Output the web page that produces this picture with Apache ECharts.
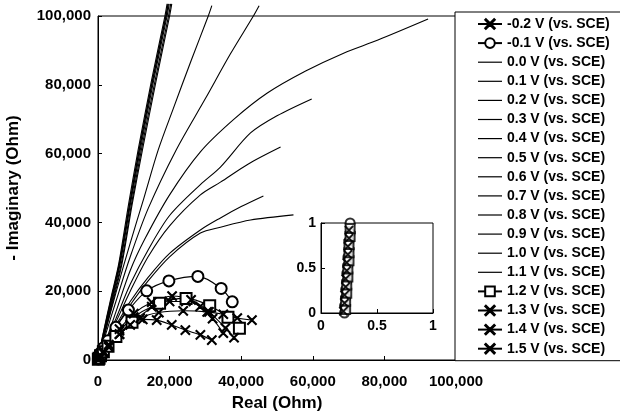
<!DOCTYPE html>
<html>
<head>
<meta charset="utf-8">
<script src="https://cdn.jsdelivr.net/npm/echarts@6/dist/echarts.min.js"></script>
<style>
  html, body { margin: 0; padding: 0; background: #fff; }
  #chart_main { width: 620px; height: 420px; }
</style>
</head>
<body>
<div id="chart_main"></div>
<script>
// series names, in legend order
var names = ['-0.2 V (vs. SCE)', '-0.1 V (vs. SCE)', '0.0 V (vs. SCE)', '0.1 V (vs. SCE)',
    '0.2 V (vs. SCE)', '0.3 V (vs. SCE)', '0.4 V (vs. SCE)', '0.5 V (vs. SCE)',
    '0.6 V (vs. SCE)', '0.7 V (vs. SCE)', '0.8 V (vs. SCE)', '0.9 V (vs. SCE)',
    '1.0 V (vs. SCE)', '1.1 V (vs. SCE)', '1.2 V (vs. SCE)', '1.3 V (vs. SCE)',
    '1.4 V (vs. SCE)', '1.5 V (vs. SCE)'];

// [real, -imaginary] in Ohm
var vM02 = [[100, 200], [300, 700], [700, 1500], [1500, 2700], [3000, 4800], [6000, 8500], [10000, 12500], [15000, 15500], [20000, 17000], [24500, 17000], [28500, 15500], [32000, 12000], [35000, 7800]];
var vM01 = [[100, 300], [300, 900], [700, 2000], [1500, 3500], [2800, 5600], [5000, 9500], [8500, 14500], [13600, 20100], [19800, 23000], [27900, 24300], [34400, 20800], [37500, 16900]];
var v00 = [[0, 0], [2000, 4000], [5000, 9500], [9000, 16000], [14000, 23000], [20000, 30000], [28600, 36900], [34200, 38600], [42600, 40700], [54600, 42200]];
var v01 = [[0, 0], [2000, 4200], [5000, 10000], [9000, 17000], [14000, 24000], [20000, 31000], [28600, 37800], [34200, 41300], [40000, 44600], [46200, 47700]];
var v02 = [[0, 0], [2000, 4500], [5000, 11000], [9000, 20000], [14000, 30000], [20000, 39000], [28600, 48000], [34200, 51700], [42000, 57000], [51000, 61900]];
var v03 = [[0, 0], [2000, 4800], [5000, 12000], [9000, 22000], [14000, 32000], [20000, 42000], [28600, 51000], [34200, 56100], [42600, 66000], [50000, 71000], [59700, 75900]];
var v04 = [[0, 0], [2000, 5000], [5000, 14000], [9000, 26000], [13000, 35000], [20000, 48000], [28600, 60500], [38000, 70000], [47300, 77600], [58000, 84000], [68600, 89200], [78200, 93000], [92200, 99100]];
var v05 = [[0, 0], [2000, 7000], [5000, 17000], [9000, 30000], [14000, 44000], [21800, 61000], [30000, 76000], [37000, 89000], [43400, 100000], [45000, 103000]];
var v06 = [[0, 0], [2000, 8000], [5000, 19500], [9000, 34000], [12800, 47000], [16800, 61000], [21000, 73000], [26000, 87000], [30800, 100000], [31800, 103000]];
var v07 = [[0, 0], [1400, 7000], [3800, 18000], [6000, 28000], [8800, 45000], [11500, 61000], [15200, 81000], [19000, 100000], [19600, 103500]];
var v08 = [[0, 0], [1500, 7000], [4000, 18000], [6200, 28000], [9000, 45000], [11800, 61000], [15500, 81000], [19300, 100000], [19900, 103500]];
var v09 = [[0, 0], [1600, 7000], [4200, 18000], [6500, 28000], [9300, 45000], [12100, 61000], [15900, 81000], [19700, 100000], [20300, 103500]];
var v10 = [[0, 0], [1700, 7000], [4400, 18000], [6700, 28000], [9500, 45000], [12400, 61000], [16200, 81000], [20000, 100000], [20600, 103500]];
var v11 = [[0, 0], [1300, 7000], [3600, 18000], [5800, 28000], [8500, 45000], [11200, 61000], [14900, 81000], [18700, 100000], [19300, 103500]];
var v12 = [[100, 200], [300, 500], [700, 1200], [1500, 2400], [2800, 4000], [5000, 6800], [9500, 11000], [17200, 16500], [24600, 17900], [31200, 15800], [36300, 12400], [39500, 9200]];
var v13 = [[100, 200], [300, 600], [700, 1300], [1500, 2500], [3000, 4500], [6000, 9000], [10000, 13500], [15000, 16800], [20700, 18600], [26000, 17500], [31000, 14000], [35600, 9300], [38000, 6500]];
var v14 = [[100, 100], [300, 500], [700, 1100], [1600, 2300], [3000, 3800], [6000, 7500], [9000, 10200], [12500, 11800], [16400, 11600], [20600, 10200], [24400, 8700], [28600, 7300], [31800, 5800]];
var v15 = [[100, 150], [300, 500], [700, 1000], [1500, 2000], [3000, 3800], [6000, 7500], [11800, 12200], [17000, 13800], [23800, 14300], [30500, 14000], [35000, 13300], [38900, 12200], [43000, 11600]];

// inset (0..1 Ohm zoom)
var insetA = [[0.21, 0.0], [0.21, 0.08], [0.22, 0.17], [0.22, 0.26], [0.23, 0.35], [0.23, 0.44], [0.24, 0.53], [0.24, 0.62], [0.25, 0.71], [0.25, 0.8], [0.26, 0.89], [0.26, 1.0]];
var insetB = [[0.22, 0.04], [0.22, 0.13], [0.23, 0.22], [0.23, 0.31], [0.24, 0.4], [0.24, 0.49], [0.25, 0.58], [0.25, 0.67], [0.25, 0.76], [0.26, 0.85], [0.26, 0.94]];
var insetC = [[0.2, 0.02], [0.21, 0.11], [0.21, 0.2], [0.22, 0.29], [0.22, 0.38], [0.23, 0.47], [0.23, 0.56], [0.24, 0.65], [0.24, 0.74], [0.25, 0.83], [0.25, 0.92], [0.26, 1.02]];

var xTicks = [0, 20000, 40000, 60000, 80000, 100000];
var insetTicks = [0, 0.5, 1];

var X_MARK = 'path://M0,0.7L0.7,0L5,4.3L9.3,0L10,0.7L5.7,5L10,9.3L9.3,10L5,5.7L0.7,10L0,9.3L4.3,5Z';
var LINE_ICON = 'path://M0,0L24,0L24,1.2L0,1.2Z';
var FONT = 'Liberation Sans';

var myChart = echarts.init(document.getElementById('chart_main'), null, {renderer: 'canvas'});

function mk(name, data, symbol, size, width) {
    return {
        name: name,
        type: 'line',
        data: data,
        smooth: 0.3,
        clip: false,
        symbol: symbol || 'none',
        symbolSize: size || 9,
        showSymbol: !!symbol,
        lineStyle: {color: '#000', width: width || 1.1},
        itemStyle: {color: '#000', borderColor: '#000', borderWidth: 1.2},
        emphasis: {disabled: true}
    };
}
function inset(data, symbol, size) {
    return {
        type: 'scatter', xAxisIndex: 1, yAxisIndex: 1,
        data: data, symbol: symbol, symbolSize: size,
        itemStyle: {color: '#000', borderColor: '#000', borderWidth: 1.2}
    };
}

var markers = {0: X_MARK, 1: 'emptyCircle', 14: 'emptyRect', 15: X_MARK, 16: X_MARK, 17: X_MARK};
var legendData = names.map(function (n, i) {
    return markers[i] ? {name: n} : {name: n, icon: LINE_ICON, itemStyle: {borderWidth: 0, color: '#000'}};
});

var series = [
    mk(names[0], vM02, X_MARK, 9),
    mk(names[1], vM01, 'emptyCircle', 11),
    mk(names[2], v00), mk(names[3], v01), mk(names[4], v02), mk(names[5], v03),
    mk(names[6], v04), mk(names[7], v05), mk(names[8], v06),
    mk(names[9], v07, null, null, 1.6), mk(names[10], v08), mk(names[11], v09),
    mk(names[12], v10), mk(names[13], v11),
    mk(names[14], v12, 'emptyRect', 11),
    mk(names[15], v13, X_MARK, 9),
    mk(names[16], v14, X_MARK, 9),
    mk(names[17], v15, X_MARK, 9),
    inset(insetA, 'emptyCircle', 9), inset(insetB, 'emptyRect', 9), inset(insetC, X_MARK, 8)
];

var axisCommon = {
    axisLine: {show: true, lineStyle: {color: '#000', width: 1}},
    axisTick: {show: true, inside: true, length: 4, lineStyle: {color: '#000'}},
    splitLine: {show: false}
};

option = {
    animation: false,
    backgroundColor: '#fff',
    textStyle: {fontFamily: FONT},
    grid: [
        {left: 98, top: 16, right: 164, bottom: 60, show: true, borderColor: '#000', borderWidth: 1,
            outerBoundsMode: 'none', containLabel: false},
        {left: 321, top: 223, width: 112, height: 90, show: true, borderColor: '#000', borderWidth: 1,
            backgroundColor: '#fff', outerBoundsMode: 'none', containLabel: false}
    ],
    legend: {
        data: legendData,
        orient: 'vertical',
        left: 455,
        top: 12,
        padding: [4, 40, 4, 22],
        itemWidth: 24,
        itemHeight: 12,
        itemGap: 3.1,
        borderColor: '#000',
        borderWidth: 1,
        backgroundColor: '#fff',
        textStyle: {fontFamily: FONT, fontWeight: 'bold', fontSize: 14, color: '#000', lineHeight: 16}
    },
    xAxis: [
        Object.assign({
            type: 'value', gridIndex: 0, min: 0, max: 100000, interval: 20000,
            name: 'Real (Ohm)', nameLocation: 'middle', nameGap: 35,
            nameTextStyle: {fontFamily: FONT, fontWeight: 'bold', fontSize: 17, color: '#000'},
            axisLabel: {
                fontFamily: FONT, fontWeight: 'bold', fontSize: 15, color: '#000', margin: 14,
                formatter: function (v) { return xTicks.indexOf(v) >= 0 ? v.toLocaleString('en-US') : ''; }
            }
        }, axisCommon),
        Object.assign({
            type: 'value', gridIndex: 1, min: 0, max: 1, interval: 0.5,
            axisLabel: {
                fontFamily: FONT, fontWeight: 'bold', fontSize: 14, color: '#000', margin: 6,
                formatter: function (v) { return insetTicks.indexOf(v) >= 0 ? String(v) : ''; }
            }
        }, axisCommon)
    ],
    yAxis: [
        Object.assign({
            type: 'value', gridIndex: 0, min: 0, max: 100000, interval: 20000,
            name: '- Imaginary (Ohm)', nameLocation: 'middle', nameGap: 76,
            nameTextStyle: {fontFamily: FONT, fontWeight: 'bold', fontSize: 17, color: '#000'},
            axisLabel: {
                fontFamily: FONT, fontWeight: 'bold', fontSize: 15, color: '#000', margin: 7,
                formatter: function (v) { return v.toLocaleString('en-US'); }
            }
        }, axisCommon),
        Object.assign({
            type: 'value', gridIndex: 1, min: 0, max: 1, interval: 0.5,
            axisLabel: {fontFamily: FONT, fontWeight: 'bold', fontSize: 14, color: '#000', margin: 5}
        }, axisCommon)
    ],
    series: series
};

myChart.setOption(option);
</script>
</body>
</html>
